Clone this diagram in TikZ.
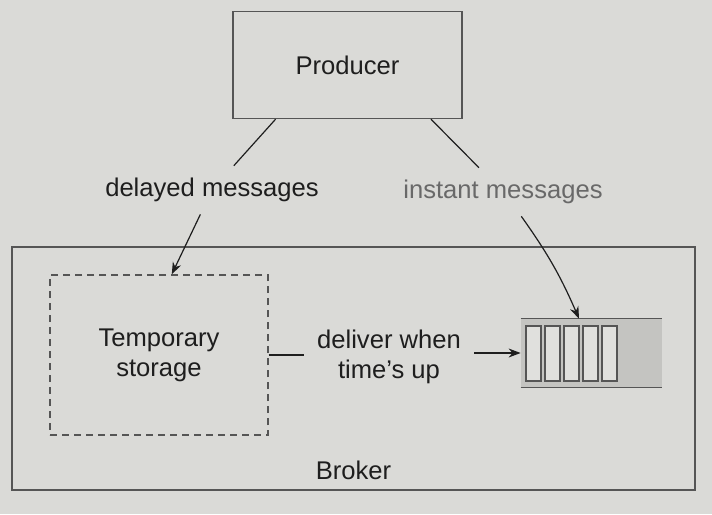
\documentclass[tikz,border=0pt]{standalone}
\usepackage{fontspec}
\setmainfont{Liberation Sans}
\usepackage{tikz}
\usetikzlibrary{positioning}
\usetikzlibrary{arrows.meta}
\definecolor{mypaper}{RGB}{218,218,215}
\definecolor{myline}{RGB}{85,85,85}
\definecolor{myink}{RGB}{30,30,30}
\definecolor{mygray}{RGB}{105,105,105}
\definecolor{myqueue}{RGB}{196,196,193}
\definecolor{myslot}{RGB}{224,224,221}
\tikzstyle{box} = [rectangle, inner sep=0pt, draw=myline, line width=0.7pt, text=myink]
\tikzstyle{dashbox} = [box, dash pattern=on 3.5pt off 2.5pt]
\tikzstyle{msg} = [text=myink, inner xsep=2pt, inner ysep=6pt]
\tikzstyle{slot} = [rectangle, draw=myline, fill=myslot, line width=0.6pt, minimum width=7.5pt, minimum height=27.5pt, inner sep=0pt]
\tikzstyle{link} = [line width=0.6pt, myink]
\tikzstyle{inout} = [link, -{Stealth[length=6pt,width=4.5pt]}]

\begin{document}
\begin{tikzpicture}[x=0.5pt, y=-0.5pt, font=\fontsize{12.8}{15}\selectfont, align=center]
	\path[use as bounding box, fill=mypaper] (0,0) rectangle (712,514);
	\node (producer) [box, minimum width=114.5pt, minimum height=53.5pt] at (347.5,65) {Producer};
	\node (broker) [box, minimum width=341.5pt, minimum height=121.5pt] at (353.5,368.5) {};
	\node (brokername) [above=2pt of broker.south, text=myink] {Broker};
	\node (storage) [dashbox, minimum width=109pt, minimum height=80pt] at (159,355) {Temporary\\storage};
	\node (queue) [rectangle, fill=myqueue, minimum width=70.5pt, minimum height=34pt, inner sep=0pt] at (591.5,353) {};
	\foreach \i in {1,...,5}
		\node (slot\i) [slot] at (514.5+19*\i,353.5) {};
	\node (delayed) [msg] at (212,190) {delayed messages};
	\node (instant) [msg, text=mygray] at (503,192) {instant messages};
	\node (deliver) [msg, inner xsep=6.5pt] at (389,357) {deliver when\\time’s up};
	\draw [link, myline] (queue.north west) -- (queue.north east);
	\draw [link, myline] (queue.south west) -- (queue.south east);
	\draw [link] (producer.217) -- (delayed);
	\draw [inout] (delayed) -- (storage.81);
	\draw [link] (producer.327) -- (instant);
	\draw [inout] (instant) to[bend left=6] (queue.110);
	\draw [link] (storage.east) -- (deliver.west |- storage.east);
	\draw [inout] (deliver.east |- queue.west) -- (queue.west);
\end{tikzpicture}
\end{document}
